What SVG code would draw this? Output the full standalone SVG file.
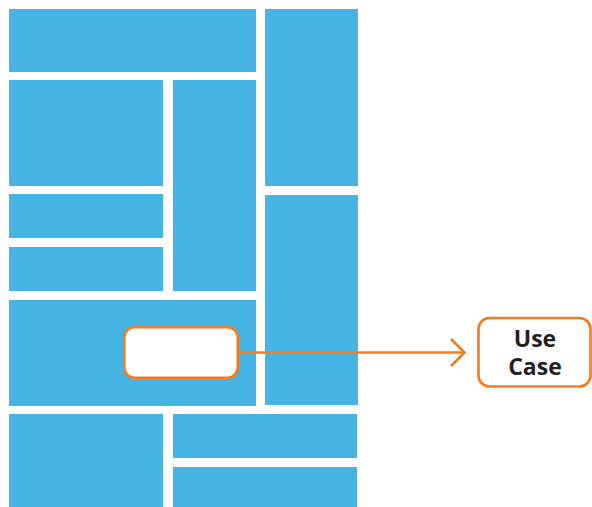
<svg xmlns="http://www.w3.org/2000/svg" width="592" height="507" viewBox="0 0 592 507">
<style>
.tile{fill:#45B4E5}
.box{fill:#fff;stroke:#F47B20;stroke-width:2.6}
.conn{fill:none;stroke:#F47B20;stroke-width:2.6}
.lbl{font-family:"Open Sans","Noto Sans",sans-serif;font-weight:bold;font-size:23px;fill:#231F20;text-anchor:middle}
</style>
<rect width="592" height="507" fill="#fff"/>
<g id="tiles">
<rect class="tile" x="9" y="9" width="247" height="63"/>
<rect class="tile" x="265" y="9" width="93" height="177"/>
<rect class="tile" x="9" y="80" width="154" height="106"/>
<rect class="tile" x="173" y="80" width="83" height="211"/>
<rect class="tile" x="9" y="194" width="154" height="44"/>
<rect class="tile" x="9" y="247" width="154" height="44"/>
<rect class="tile" x="265" y="195" width="93" height="210"/>
<rect class="tile" x="9" y="300" width="247" height="106"/>
<rect class="tile" x="9" y="414" width="154" height="93"/>
<rect class="tile" x="173" y="414" width="184" height="44"/>
<rect class="tile" x="173" y="467" width="184" height="40"/>
</g>
<g id="source">
<rect class="box" x="124.3" y="327.3" width="113.5" height="50.4" rx="10"/>
</g>
<g id="connectors">
<path class="conn" d="M237.8 352.5 H464"/>
<path class="conn" d="M451 339 L464.5 352.5 L451 366"/>
</g>
<g id="usecase">
<rect class="box" x="478.5" y="318" width="112" height="68.5" rx="11" stroke-width="2.8"/>
<text class="lbl" x="535" y="346.5">Use<tspan x="535" dy="28.5">Case</tspan></text>
</g>
</svg>
